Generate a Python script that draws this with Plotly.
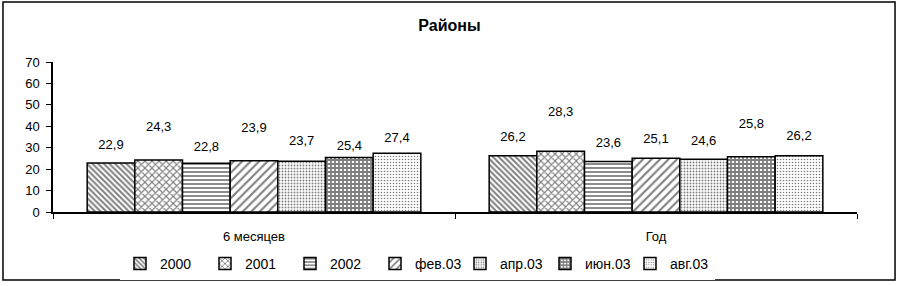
import plotly.graph_objects as go

categories = ["6 месяцев", "Год"]
series_names = ["2000", "2001", "2002", "фев.03", "апр.03", "июн.03", "авг.03"]
v2000 = [22.9, 26.2]
v2001 = [24.3, 28.3]
v2002 = [22.8, 23.6]
vfeb03 = [23.9, 25.1]
vapr03 = [23.7, 24.6]
vjun03 = [25.4, 25.8]
vaug03 = [27.4, 26.2]
series_values = [v2000, v2001, v2002, vfeb03, vapr03, vjun03, vaug03]
y_ticks = [0, 10, 20, 30, 40, 50, 60, 70]

# label lift above bar top (axis units), per series per category
label_lift = [[7.9, 8.4], [14.9, 18.2], [7.0, 8.4], [14.9, 8.4], [8.9, 8.4], [5.1, 14.9], [7.0, 8.9]]

patterns = [
    dict(shape="\\", size=4, solidity=0.5),
    dict(shape="x", size=5, solidity=0.4),
    dict(shape="-", size=4, solidity=0.45),
    dict(shape="/", size=6, solidity=0.35),
    dict(shape=".", size=3, solidity=0.3),
    dict(shape="+", size=4, solidity=0.7),
    dict(shape=".", size=3, solidity=0.22),
]

FONT = "Liberation Sans, Arial, sans-serif"
fig = go.Figure()
for i, (name, vals) in enumerate(zip(series_names, series_values)):
    p = patterns[i]
    fig.add_trace(go.Bar(
        x=categories, y=vals, name=name, offsetgroup=str(i),
        marker=dict(color="white", line=dict(color="black", width=1.5),
                    pattern=dict(shape=p["shape"], size=p["size"], solidity=p["solidity"],
                                 fgcolor="black", bgcolor="white", fillmode="overlay")),
    ))
for i, (name, vals) in enumerate(zip(series_names, series_values)):
    fig.add_trace(go.Scatter(
        x=categories, y=[v + l for v, l in zip(vals, label_lift[i])],
        mode="text", text=[f"{v:.1f}".replace(".", ",") for v in vals],
        textposition="middle center", offsetgroup=str(i), showlegend=False,
        textfont=dict(size=13, color="black", family=FONT), hoverinfo="skip", cliponaxis=False,
    ))

fig.update_layout(
    width=899, height=286,
    margin=dict(l=53, r=42, t=62, b=74, autoexpand=False),
    paper_bgcolor="white", plot_bgcolor="white",
    barmode="group", bargap=0.17, bargroupgap=0, scattermode="group", scattergap=0.17,
    font=dict(family=FONT, size=13, color="black"),
    title=dict(text="<b>Районы</b>", x=0.5, xanchor="center", y=0.9126, yanchor="middle",
               yref="container", font=dict(size=16, family=FONT)),
    showlegend=True,
    legend=dict(orientation="h", xref="container", yref="container",
                x=120 / 899, xanchor="left", y=1 - 264 / 286, yanchor="middle",
                font=dict(size=14, family=FONT), traceorder="normal",
                entrywidth=40, entrywidthmode="pixels", itemwidth=30),
    xaxis=dict(type="category", showline=True, linecolor="black", linewidth=1.5,
               ticks="outside", ticklen=5, tickcolor="black", tickson="boundaries",
               ticklabelstandoff=12, showgrid=False, zeroline=False, fixedrange=True,
               automargin=False),
    yaxis=dict(range=[0, 70], tickvals=y_ticks, showline=True, linecolor="black", linewidth=1.5,
               ticks="outside", ticklen=5, tickcolor="black", showgrid=False, zeroline=False,
               ticklabelstandoff=4, automargin=False),
    shapes=[dict(type="rect", xref="paper", yref="paper", x0=-0.0622, x1=1.0473, y0=-0.453, y1=1.4,
                 line=dict(color="black", width=1.5), fillcolor="rgba(0,0,0,0)", layer="below")],
)
fig.write_html("out.html", config={"displayModeBar": False},
               post_script="document.body.style.margin='0';")
